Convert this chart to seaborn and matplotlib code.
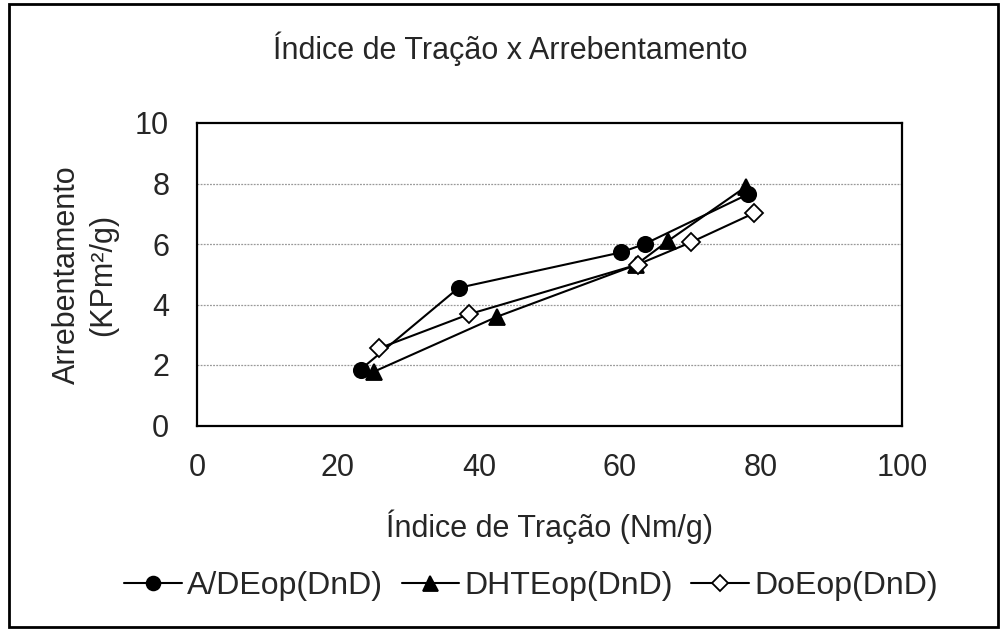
import matplotlib
matplotlib.use("Agg")
import matplotlib.pyplot as plt
from matplotlib.patches import Rectangle
import seaborn as sns
import pandas as pd

# values
x_adeop = [23.2, 37.1, 60.1, 63.5, 78.2]
y_adeop = [1.85, 4.55, 5.72, 6.0, 7.65]

x_dhteop = [25.1, 42.6, 62.2, 66.8, 77.9]
y_dhteop = [1.78, 3.6, 5.3, 6.1, 7.9]

x_doeop = [25.8, 38.6, 62.5, 70.0, 79.0]
y_doeop = [2.55, 3.68, 5.32, 6.05, 7.02]

series_names = ["A/DEop(DnD)", "DHTEop(DnD)", "DoEop(DnD)"]
x_ticks = [0, 20, 40, 60, 80, 100]
y_ticks = [0, 2, 4, 6, 8, 10]

sns.set_style("white")
plt.rcParams["font.family"] = ["Liberation Sans", "DejaVu Sans"]
FS = 22

frames = []
for name, xs, ys in zip(series_names,
                        [x_adeop, x_dhteop, x_doeop],
                        [y_adeop, y_dhteop, y_doeop]):
    frames.append(pd.DataFrame({"x": xs, "y": ys, "serie": name}))
df = pd.concat(frames, ignore_index=True)

W, H = 1006, 630
fig = plt.figure(figsize=(W / 100, H / 100), dpi=100)
# outer chart frame
fig.add_artist(Rectangle((8.5 / W, 3.5 / H), 1 - 17 / W, 1 - 7 / H,
                         transform=fig.transFigure, fill=False,
                         edgecolor="black", linewidth=2))
ax = fig.add_axes([197 / W, 1 - 425.5 / H, 705 / W, 302.5 / H])

styles = {
    "A/DEop(DnD)": dict(marker="o", markerfacecolor="black", markersize=11),
    "DHTEop(DnD)": dict(marker="^", markerfacecolor="black", markersize=12),
    "DoEop(DnD)": dict(marker="D", markerfacecolor="white", markersize=9),
}
for name in series_names:
    sub = df[df["serie"] == name]
    sns.lineplot(data=sub, x="x", y="y", ax=ax, sort=False, color="black",
                 linewidth=1.5, markeredgecolor="black", markeredgewidth=1.3,
                 label=name, **styles[name])

ax.set_xlim(0, 100)
ax.set_ylim(0, 10)
ax.set_xticks(x_ticks)
ax.set_yticks(y_ticks)
ax.tick_params(axis="both", labelsize=FS, direction="out", length=8,
               width=1.3, color="black")
ax.tick_params(axis="x", pad=12)
ax.tick_params(axis="y", pad=12)
for y in y_ticks[1:-1]:
    ax.axhline(y, color="#999999", linestyle=(0, (1.5, 1)), linewidth=0.9, zorder=0)
for s in ax.spines.values():
    s.set_color("black")
    s.set_linewidth(1.6)

ax.set_xlabel("")
ax.set_ylabel("")
fig.text(549.5 / W, 1 - 537 / H, "Índice de Tração (Nm/g)", fontsize=FS,
         ha="center", va="baseline")
fig.text(85 / W, 1 - 275 / H, "Arrebentamento\n(KPm²/g)", fontsize=FS,
         ha="center", va="center", rotation=90, linespacing=1.3,
         multialignment="center")
fig.text(510 / W, 1 - 59 / H, "Índice de Tração x Arrebentamento", fontsize=FS,
         ha="center", va="baseline")

handles, labels = ax.get_legend_handles_labels()
ax.get_legend().remove()
fig.legend(handles, labels, loc="center", bbox_to_anchor=(531 / W, 1 - 586 / H),
           ncol=3, frameon=False, fontsize=23, handlelength=1.8,
           handletextpad=0.16, columnspacing=0.58, borderaxespad=0,
           borderpad=0, markerscale=0.9)

fig.savefig("out.png", dpi=100)
